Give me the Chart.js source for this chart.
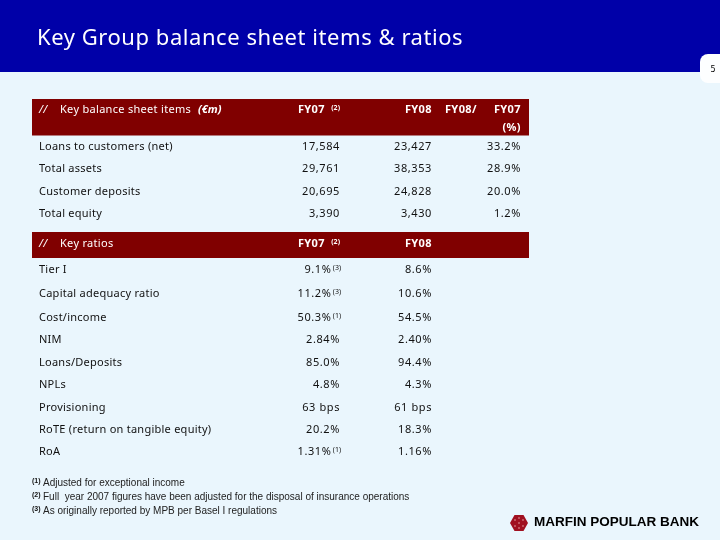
<!DOCTYPE html>
<html><head><meta charset="utf-8">
<style>html,body{margin:0;padding:0;background:#EAF6FD}canvas{display:block}</style>
<script src="https://cdn.jsdelivr.net/npm/chart.js@4/dist/chart.umd.min.js"></script>
</head><body><canvas id="c" width="720" height="540"></canvas>
<script>
const titleText = 'Key Group balance sheet items & ratios';
const pageNumber = '5';
const balanceItems = ['Loans to customers (net)', 'Total assets', 'Customer deposits', 'Total equity'];
const balanceFY07 = [17584, 29761, 20695, 3390];
const balanceFY08 = [23427, 38353, 24828, 3430];
const balanceChange = [33.2, 28.9, 20.0, 1.2];
const ratioItems = ['Tier I', 'Capital adequacy ratio', 'Cost/income', 'NIM', 'Loans/Deposits', 'NPLs', 'Provisioning', 'RoTE (return on tangible equity)', 'RoA'];
const ratioFY07 = ['9.1%', '11.2%', '50.3%', '2.84%', '85.0%', '4.8%', '63 bps', '20.2%', '1.31%'];
const ratioFY07Notes = ['(3)', '(3)', '(1)', '', '', '', '', '', '(1)'];
const ratioFY08 = ['8.6%', '10.6%', '54.5%', '2.40%', '94.4%', '4.3%', '61 bps', '18.3%', '1.16%'];
const footnoteMarks = ['(1)', '(2)', '(3)'];
const footnotes = ['Adjusted for exceptional income', 'Full  year 2007 figures have been adjusted for the disposal of insurance operations', 'As originally reported by MPB per Basel I regulations'];
const logoText = 'MARFIN POPULAR BANK';

const balanceRowY = [146, 168, 191, 213];
const ratioRowY = [269, 293, 317, 339, 362, 384, 407, 429, 451];
const colLabel = 39, colFY07 = 340, colFY08 = 432, colChange = 521;
const BODY = '"Noto Sans", sans-serif';

const fmt = n => n.toLocaleString('en-US');
const pct = n => n.toFixed(1) + '%';
const pts = (x, ys) => ys.map(y => ({x, y}));
const invisible = d => ({data: d, pointRadius: 0, showLine: false});

function text(ctx, s, x, y, o = {}) {
  ctx.save();
  ctx.font = o.font || '11px ' + BODY;
  ctx.fillStyle = o.color || '#111';
  ctx.textAlign = o.align || 'left';
  ctx.textBaseline = 'middle';
  ctx.letterSpacing = o.ls || '0.25px';
  ctx.fillText(s, x, y + 0.5);
  ctx.restore();
}

const tablePlugin = {
  id: 'table',
  beforeDatasetsDraw(chart) {
    const {ctx, scales: {x, y}} = chart;
    const rect = (x0, y0, x1, y1, c) => {
      ctx.fillStyle = c;
      ctx.fillRect(x.getPixelForValue(x0), y.getPixelForValue(y0),
        x.getPixelForValue(x1) - x.getPixelForValue(x0), y.getPixelForValue(y1) - y.getPixelForValue(y0));
    };
    rect(0, 0, 720, 540, '#EAF6FD');
    rect(0, 0, 720, 72, '#0000A8');
    rect(32, 99, 529, 135.5, '#800000');
    rect(32, 232, 529, 258, '#800000');
    ctx.fillStyle = '#FDFEFF';
    ctx.beginPath();
    ctx.roundRect(700, 54, 40, 29, 8);
    ctx.fill();
  },
  afterDatasetsDraw(chart) {
    const {ctx} = chart;
    const metaPts = i => chart.getDatasetMeta(i).data;
    const wb = {font: 'bold 11px ' + BODY, color: '#fff', ls: '0.4px'};
    const num = {align: 'right', ls: '0.6px'};
    text(ctx, titleText, 37, 38, {font: '22px ' + BODY, color: '#fff', ls: '0.55px'});
    text(ctx, pageNumber, 713, 69.5, {font: '8px "DejaVu Sans"', align: 'center', color: '#000', ls: '0px'});

    // header bands
    const hdr = (yy, label, unit) => {
      text(ctx, '//', 39, yy, {font: 'italic 11px ' + BODY, color: '#fff'});
      text(ctx, label, 60, yy, {font: '11px ' + BODY, color: '#fff', ls: '0.3px'});
      if (unit) text(ctx, unit, 198, yy, {font: 'italic bold 11px ' + BODY, color: '#fff', ls: '0px'});
      text(ctx, 'FY07', 325, yy, {...wb, align: 'right'});
      text(ctx, '(2)', 340, yy - 1.5, {font: 'bold 7px ' + BODY, color: '#fff', align: 'right', ls: '0px'});
      text(ctx, 'FY08', 432, yy, {...wb, align: 'right'});
    };
    hdr(109, 'Key balance sheet items', '(€m)');
    hdr(243, 'Key ratios');
    text(ctx, 'FY08/', 477, 109, {...wb, align: 'right'});
    text(ctx, 'FY07', 521, 109, {...wb, align: 'right'});
    text(ctx, '(%)', 521, 127, {...wb, align: 'right'});

    // balance rows
    metaPts(0).forEach((p, i) => text(ctx, balanceItems[i], p.x, p.y));
    metaPts(1).forEach((p, i) => text(ctx, fmt(balanceFY07[i]), p.x, p.y, num));
    metaPts(2).forEach((p, i) => text(ctx, fmt(balanceFY08[i]), p.x, p.y, num));
    metaPts(3).forEach((p, i) => text(ctx, pct(balanceChange[i]), p.x, p.y, num));
    // ratio rows
    metaPts(4).forEach((p, i) => text(ctx, ratioItems[i], p.x, p.y));
    metaPts(5).forEach((p, i) => {
      const n = ratioFY07Notes[i];
      text(ctx, ratioFY07[i], n ? p.x - 8.5 : p.x, p.y, num);
      if (n) text(ctx, n, p.x + 1, p.y - 2, {font: '7px ' + BODY, align: 'right', ls: '0px'});
    });
    metaPts(6).forEach((p, i) => text(ctx, ratioFY08[i], p.x, p.y, num));
    // footnotes
    metaPts(7).forEach((p, i) => {
      text(ctx, footnoteMarks[i], p.x, p.y - 2, {font: 'bold 7px "Liberation Sans"', ls: '0px'});
      text(ctx, footnotes[i], p.x + 11, p.y, {font: '10px "Liberation Sans"', color: '#222', ls: '0px'});
    });
    // logo
    ctx.fillStyle = '#A01020';
    ctx.beginPath();
    const cx = 519, cy = 523;
    [[-9, 0], [-4.5, -8], [4.5, -8], [9, 0], [4.5, 8], [-4.5, 8]].forEach(([dx, dy], i) => i ? ctx.lineTo(cx + dx, cy + dy) : ctx.moveTo(cx + dx, cy + dy));
    ctx.closePath();
    ctx.fill();
    ctx.fillStyle = '#F4C8C8';
    [[0, 0], [-4, -3], [4, -3], [-4, 3], [4, 3], [0, -5], [0, 5]].forEach(([dx, dy]) => ctx.fillRect(cx + dx - .6, cy + dy - .6, 1.2, 1.2));
    text(ctx, logoText, 534, 522, {font: 'bold 13.5px "Liberation Sans"', color: '#000', ls: '0px'});
  }
};

new Chart(document.getElementById('c'), {
  type: 'scatter',
  data: {datasets: [
    invisible(pts(colLabel, balanceRowY)),
    invisible(pts(colFY07, balanceRowY)),
    invisible(pts(colFY08, balanceRowY)),
    invisible(pts(colChange, balanceRowY)),
    invisible(pts(colLabel, ratioRowY)),
    invisible(pts(colFY07, ratioRowY)),
    invisible(pts(colFY08, ratioRowY)),
    invisible(pts(32, [483, 497, 511]))
  ]},
  options: {
    responsive: false, animation: false,
    devicePixelRatio: 1,
    layout: {padding: 0},
    plugins: {legend: {display: false}, tooltip: {enabled: false}, title: {display: false}},
    scales: {
      x: {type: 'linear', min: 0, max: 720, display: false},
      y: {type: 'linear', min: 0, max: 540, reverse: true, display: false}
    }
  },
  plugins: [tablePlugin]
});
</script></body></html>
